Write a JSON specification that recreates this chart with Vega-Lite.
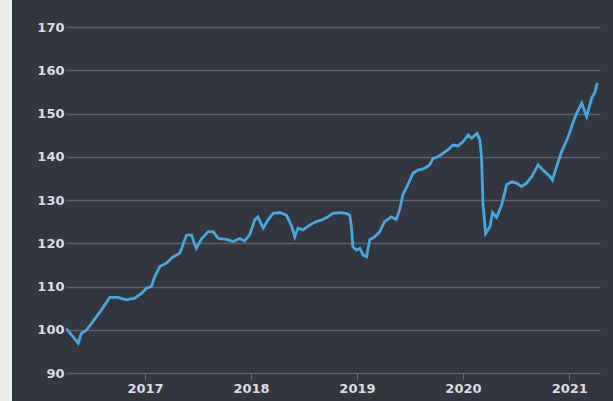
{
  "$schema": "https://vega.github.io/schema/vega-lite/v6.json",
  "width": 534,
  "height": 346,
  "autosize": {"type": "none"},
  "padding": {"left": 66, "top": 27, "right": 13, "bottom": 28},
  "background": "#eeeeee",
  "config": {
    "view": {"fill": "#31363f", "stroke": "#31363f", "strokeWidth": 108},
    "axis": {
      "labelFont": "DejaVu Sans",
      "labelFontWeight": "bold",
      "labelFontSize": 13,
      "labelColor": "#dcdde0",
      "gridColor": "#5c616a",
      "gridWidth": 1.5,
      "domain": false,
      "title": null
    }
  },
  "data": {
    "values": [
      {"date": "2016-04-04", "value": 100.3},
      {"date": "2016-04-23", "value": 98.8},
      {"date": "2016-05-16", "value": 96.9},
      {"date": "2016-05-27", "value": 99.2},
      {"date": "2016-06-13", "value": 99.9},
      {"date": "2016-07-06", "value": 101.9},
      {"date": "2016-08-04", "value": 104.6},
      {"date": "2016-09-02", "value": 107.5},
      {"date": "2016-09-30", "value": 107.5},
      {"date": "2016-10-29", "value": 106.9},
      {"date": "2016-11-27", "value": 107.3},
      {"date": "2016-12-20", "value": 108.4},
      {"date": "2017-01-06", "value": 109.6},
      {"date": "2017-01-23", "value": 110.0},
      {"date": "2017-02-04", "value": 112.3},
      {"date": "2017-02-21", "value": 114.6},
      {"date": "2017-03-16", "value": 115.4},
      {"date": "2017-04-08", "value": 116.9},
      {"date": "2017-05-01", "value": 117.7},
      {"date": "2017-05-24", "value": 121.9},
      {"date": "2017-06-10", "value": 121.9},
      {"date": "2017-06-27", "value": 118.8},
      {"date": "2017-07-15", "value": 121.0},
      {"date": "2017-08-07", "value": 122.7},
      {"date": "2017-08-24", "value": 122.7},
      {"date": "2017-09-10", "value": 121.1},
      {"date": "2017-10-09", "value": 120.9},
      {"date": "2017-11-01", "value": 120.4},
      {"date": "2017-11-23", "value": 121.1},
      {"date": "2017-12-10", "value": 120.5},
      {"date": "2017-12-28", "value": 122.0},
      {"date": "2018-01-14", "value": 125.4},
      {"date": "2018-01-25", "value": 126.1},
      {"date": "2018-02-12", "value": 123.5},
      {"date": "2018-03-01", "value": 125.4},
      {"date": "2018-03-18", "value": 126.9},
      {"date": "2018-04-10", "value": 127.1},
      {"date": "2018-05-03", "value": 126.5},
      {"date": "2018-05-20", "value": 124.2},
      {"date": "2018-06-01", "value": 121.5},
      {"date": "2018-06-12", "value": 123.5},
      {"date": "2018-06-29", "value": 123.1},
      {"date": "2018-07-22", "value": 124.2},
      {"date": "2018-08-14", "value": 125.0},
      {"date": "2018-09-06", "value": 125.5},
      {"date": "2018-09-23", "value": 126.1},
      {"date": "2018-10-10", "value": 126.9},
      {"date": "2018-11-02", "value": 127.1},
      {"date": "2018-11-25", "value": 126.9},
      {"date": "2018-12-07", "value": 126.5},
      {"date": "2018-12-13", "value": 123.8},
      {"date": "2018-12-18", "value": 119.2},
      {"date": "2018-12-30", "value": 118.4},
      {"date": "2019-01-11", "value": 118.8},
      {"date": "2019-01-22", "value": 117.3},
      {"date": "2019-02-03", "value": 116.9},
      {"date": "2019-02-14", "value": 120.8},
      {"date": "2019-03-03", "value": 121.5},
      {"date": "2019-03-20", "value": 122.6},
      {"date": "2019-04-06", "value": 125.0},
      {"date": "2019-04-29", "value": 126.1},
      {"date": "2019-05-16", "value": 125.5},
      {"date": "2019-05-28", "value": 127.7},
      {"date": "2019-06-08", "value": 131.2},
      {"date": "2019-06-25", "value": 133.5},
      {"date": "2019-07-13", "value": 136.2},
      {"date": "2019-07-30", "value": 136.9},
      {"date": "2019-08-22", "value": 137.3},
      {"date": "2019-09-08", "value": 138.1},
      {"date": "2019-09-20", "value": 139.6},
      {"date": "2019-10-07", "value": 140.0},
      {"date": "2019-10-24", "value": 140.8},
      {"date": "2019-11-10", "value": 141.6},
      {"date": "2019-11-28", "value": 142.7},
      {"date": "2019-12-15", "value": 142.5},
      {"date": "2020-01-02", "value": 143.5},
      {"date": "2020-01-19", "value": 145.0},
      {"date": "2020-01-31", "value": 144.3},
      {"date": "2020-02-19", "value": 145.4},
      {"date": "2020-02-28", "value": 143.9},
      {"date": "2020-03-05", "value": 140.0},
      {"date": "2020-03-10", "value": 129.2},
      {"date": "2020-03-19", "value": 122.3},
      {"date": "2020-04-03", "value": 123.8},
      {"date": "2020-04-12", "value": 127.1},
      {"date": "2020-04-26", "value": 126.0},
      {"date": "2020-05-13", "value": 128.8},
      {"date": "2020-05-31", "value": 133.6},
      {"date": "2020-06-17", "value": 134.2},
      {"date": "2020-07-04", "value": 133.9},
      {"date": "2020-07-21", "value": 133.1},
      {"date": "2020-08-07", "value": 133.9},
      {"date": "2020-08-24", "value": 135.3},
      {"date": "2020-09-16", "value": 138.1},
      {"date": "2020-10-03", "value": 136.9},
      {"date": "2020-10-26", "value": 135.5},
      {"date": "2020-11-04", "value": 134.6},
      {"date": "2020-11-18", "value": 137.6},
      {"date": "2020-12-06", "value": 141.2},
      {"date": "2020-12-28", "value": 144.5},
      {"date": "2021-01-21", "value": 149.2},
      {"date": "2021-02-13", "value": 152.4},
      {"date": "2021-03-02", "value": 149.3},
      {"date": "2021-03-19", "value": 153.5},
      {"date": "2021-03-31", "value": 155.0},
      {"date": "2021-04-08", "value": 157.1}
    ]
  },
  "mark": {"type": "line", "color": "#4aa7da", "strokeWidth": 2.8, "clip": true},
  "encoding": {
    "x": {
      "field": "date",
      "type": "temporal",
      "scale": {"domain": [{"year": 2016, "month": 4, "date": 4}, {"year": 2021, "month": 4, "date": 17}]},
      "axis": {
        "format": "%Y",
        "tickCount": "year",
        "grid": false,
        "ticks": true,
        "tickSize": 6,
        "tickColor": "#6a6f78",
        "tickWidth": 1,
        "labelPadding": 3
      }
    },
    "y": {
      "field": "value",
      "type": "quantitative",
      "scale": {"domain": [90, 170], "nice": false, "zero": false},
      "axis": {
        "values": [90, 100, 110, 120, 130, 140, 150, 160, 170],
        "ticks": false,
        "tickSize": 0,
        "labelPadding": 2,
        "grid": true
      }
    }
  }
}
